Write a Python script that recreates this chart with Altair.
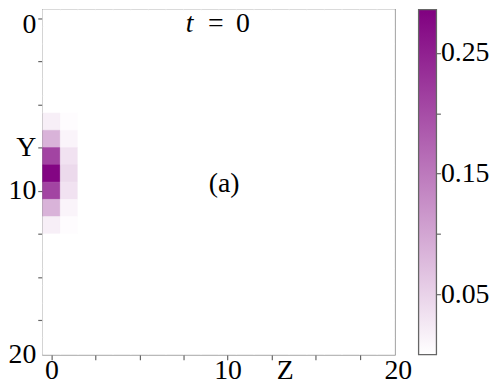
import altair as alt
import pandas as pd

N = 20
CMAX = 0.286
# concentration in column Z=0 and Z=1, rows Y=0..19
col0 = [0, 0, 0, 0, 0, 0, 0.018, 0.085, 0.21, 0.28, 0.21, 0.085, 0.018, 0, 0, 0, 0, 0, 0, 0]
col1 = [0, 0, 0, 0, 0, 0, 0.003, 0.012, 0.032, 0.042, 0.032, 0.012, 0.003, 0, 0, 0, 0, 0, 0, 0]
columns = {0: col0, 1: col1}

x_ticks = [0, 2.5, 5, 7.5, 10, 12.5, 15, 17.5, 19.5]
y_ticks = [0, 2.5, 5, 7.5, 10, 12.5, 15, 17.5, 19.5]
cbar_ticks = [0.05, 0.1, 0.15, 0.2, 0.25]

rows = []
for z in range(N):
    for y in range(N):
        v = columns[z][y] if z in columns else 0.0
        rows.append({"Z": z, "Y": y, "v": v})
df = pd.DataFrame(rows)

FONT = "Liberation Serif"
FS = 28
FRAME = "#666666"
PURPLE = "#800080"

xscale = alt.Scale(domain=[-0.5, 19.5], nice=False, zero=False)
yscale = alt.Scale(domain=[-0.5, 19.5], nice=False, zero=False, reverse=True)
cscale = alt.Scale(domain=[0, CMAX], range=["#ffffff", PURPLE], interpolate="rgb")

x_axis = alt.Axis(
    values=x_ticks,
    labelExpr="datum.value==0?'0':datum.value==10?'10':datum.value==19.5?'20':''",
    tickOpacity={"condition": {"test": "datum.value==19.5", "value": 0}, "value": 1},
    labelOffset={"condition": {"test": "datum.value==19.5", "value": 3}, "value": 0},
    labelBaseline="alphabetic",
    labelPadding=19,
    labelFlush=False,
    labelOverlap=False,
    title="Z",
    titleX=244,
    titleY=24,
    titleBaseline="alphabetic",
)
y_axis = alt.Axis(
    values=y_ticks,
    labelExpr="datum.value==0?'0':datum.value==7.5?'Y':datum.value==10?'10':datum.value==19.5?'20':''",
    tickOpacity={"condition": {"test": "datum.value==19.5", "value": 0}, "value": 1},
    labelOffset={"condition": {"test": "datum.value==0", "value": 6}, "value": 0},
    labelPadding=2,
    labelFlush=False,
    labelOverlap=False,
    title=None,
)

heat = alt.Chart(df).transform_calculate(
    z0="datum.Z-0.5", z1="datum.Z+0.5", y0="datum.Y-0.5", y1="datum.Y+0.5"
).mark_rect(strokeWidth=0.6).encode(
    x=alt.X("z0:Q", scale=xscale, axis=x_axis),
    x2="z1:Q",
    y=alt.Y("y0:Q", scale=yscale, axis=y_axis),
    y2="y1:Q",
    color=alt.Color("v:Q", scale=cscale, legend=None),
    stroke=alt.Stroke("v:Q", scale=cscale, legend=None),
)

def label(z, y, s, italic=False):
    d = pd.DataFrame({"z0": [z], "y0": [y], "s": [s]})
    return alt.Chart(d).mark_text(
        font=FONT, fontSize=FS, fontStyle="italic" if italic else "normal",
        baseline="alphabetic", color="black",
    ).encode(
        x=alt.X("z0:Q", scale=xscale, axis=x_axis),
        y=alt.Y("y0:Q", scale=yscale, axis=y_axis),
        text="s:N",
    )

t_lab = label(7.84, 0.8, "t", italic=True)
eq_lab = label(9.33, 0.8, "=")
zero_lab = label(10.88, 0.8, "0")
a_lab = label(9.81, 10.1, "(a)")

grad = alt.Gradient(
    gradient="linear",
    stops=[alt.GradientStop(color="#ffffff", offset=0), alt.GradientStop(color=PURPLE, offset=1)],
    x1=0, x2=0, y1=1, y2=0,
)
cbar = alt.Chart(pd.DataFrame({"lo": [0.0], "hi": [CMAX]})).mark_rect(
    fill=grad, stroke=FRAME, strokeWidth=1.3
).encode(
    x=alt.value(379),
    x2=alt.value(397),
    y=alt.Y(
        "lo:Q",
        scale=alt.Scale(domain=[0, CMAX], nice=False, zero=False),
        axis=alt.Axis(
            orient="right", offset=41, values=cbar_ticks, title=None,
            labelExpr="(round(datum.value*100)%10==5) ? format(datum.value,'.2f') : ''",
            labelPadding=0, labelFlush=False, labelOverlap=False,
        ),
    ),
    y2="hi:Q",
)

inner = alt.layer(heat, t_lab, eq_lab, zero_lab, a_lab)
chart = alt.layer(inner, cbar).resolve_scale(y="independent").properties(
    width=355, height=348,
    padding={"left": 35, "top": 0, "right": 96, "bottom": 28},
    autosize="none",
).configure_view(
    stroke=FRAME, strokeWidth=1.3
).configure_axis(
    domain=False, grid=False, tickColor=FRAME, tickSize=5, tickWidth=1.2,
    labelFont=FONT, labelFontSize=FS, labelColor="black",
    titleFont=FONT, titleFontSize=FS, titleFontWeight="normal", titleColor="black",
)

chart.save("out.html", embed_options={"renderer": "svg", "actions": False})
